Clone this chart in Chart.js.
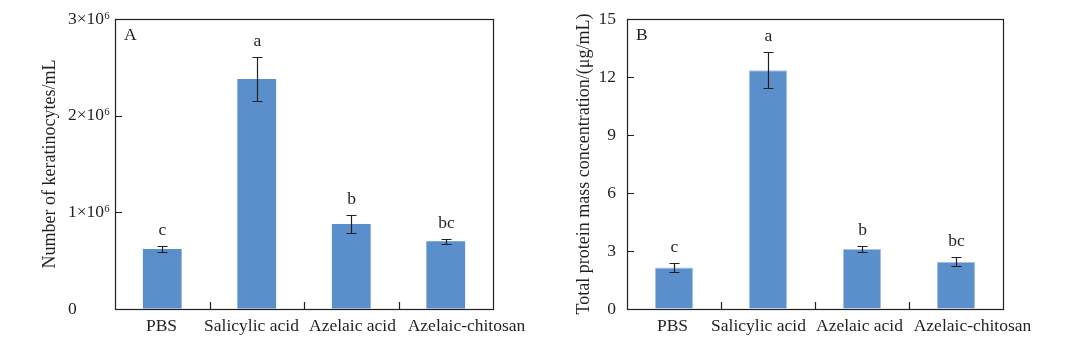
<!DOCTYPE html>
<html>
<head>
<meta charset="utf-8">
<script src="https://cdn.jsdelivr.net/npm/chart.js@4.4.1/dist/chart.umd.min.js"></script>
<style>
    html, body { margin: 0; padding: 0; background: #fff; }
    .painel { position: absolute; top: 0; height: 346px; }
    #painelA { left: 0; width: 540px; }
    #painelB { left: 540px; width: 542px; }
</style>
</head>
<body>
<div class="painel" id="painelA"><canvas id="graficoA"></canvas></div>
<div class="painel" id="painelB"><canvas id="graficoB"></canvas></div>
<script>
// Dados dos dois painéis
const grupos = ['PBS', 'Salicylic acid', 'Azelaic acid', 'Azelaic-chitosan'];
const queratinocitos = [0.62e6, 2.38e6, 0.88e6, 0.70e6];
const queratinocitosErro = [0.03e6, 0.23e6, 0.09e6, 0.025e6];
const proteina = [2.15, 12.35, 3.1, 2.44];
const proteinaErro = [0.23, 0.93, 0.17, 0.23];
const letras = ['c', 'a', 'b', 'bc'];
const rotulosA = ['0', '1×10⁶', '2×10⁶', '3×10⁶'];

const corTexto = '#231f20';
const corBarra = '#5b8fcb';
const fonte = "'Liberation Serif', 'Times New Roman', serif";

Chart.defaults.font.family = fonte;
Chart.defaults.font.size = 17;
Chart.defaults.color = corTexto;

// Moldura, marcas internas, barras de erro, rótulos e letras de significância
const decoracao = {
    id: 'decoracao',
    afterDatasetsDraw(chart, args, opts) {
        const { ctx, chartArea: a, scales: { x, y } } = chart;
        const medias = chart.data.datasets[0].data;
        ctx.save();
        ctx.strokeStyle = corTexto;
        ctx.fillStyle = corTexto;
        ctx.lineWidth = 1.2;

        ctx.strokeRect(Math.round(a.left) + 0.5, Math.round(a.top) + 0.5,
            Math.round(a.right - a.left), Math.round(a.bottom - a.top));

        ctx.beginPath();
        y.ticks.forEach(t => {
            if (t.value <= y.min || t.value >= y.max) return;
            const py = Math.round(y.getPixelForValue(t.value)) + 0.5;
            ctx.moveTo(a.left, py);
            ctx.lineTo(a.left + 7, py);
        });
        for (let i = 1; i < grupos.length; i++) {
            const px = Math.round((x.getPixelForValue(i - 1) + x.getPixelForValue(i)) / 2) + 0.5;
            ctx.moveTo(px, a.bottom);
            ctx.lineTo(px, a.bottom - 7);
        }
        ctx.stroke();

        ctx.font = '17.5px ' + fonte;
        ctx.textAlign = 'center';
        ctx.textBaseline = 'middle';
        medias.forEach((m, i) => {
            const e = opts.erros[i];
            const cx = Math.round(x.getPixelForValue(i)) + 0.5;
            const topo = Math.round(y.getPixelForValue(m + e)) + 0.5;
            const base = Math.round(y.getPixelForValue(m - e)) + 0.5;
            ctx.beginPath();
            ctx.moveTo(cx, topo); ctx.lineTo(cx, base);
            ctx.moveTo(cx - 5, topo); ctx.lineTo(cx + 5, topo);
            ctx.moveTo(cx - 5, base); ctx.lineTo(cx + 5, base);
            ctx.stroke();
            ctx.fillText(letras[i], cx, topo - 16);
            // nome do grupo, levemente afastado para não encostar no vizinho
            ctx.fillText(grupos[i], cx + opts.desvios[i], a.bottom + 17);
        });

        // letra do painel
        ctx.textAlign = 'left';
        ctx.fillText(opts.painel, a.left + 9, a.top + 16);

        // título do eixo y
        ctx.font = '18px ' + fonte;
        ctx.translate(opts.tituloX, (a.top + a.bottom) / 2);
        ctx.rotate(-Math.PI / 2);
        ctx.textAlign = 'center';
        ctx.fillText(opts.titulo, 0, 0);
        ctx.restore();
    }
};

function criarGrafico(id, medias, erros, cfg) {
    return new Chart(document.getElementById(id), {
        type: 'bar',
        data: {
            labels: grupos,
            datasets: [{
                data: medias,
                backgroundColor: corBarra,
                borderColor: cfg.borda,
                borderWidth: cfg.borda ? 1 : 0,
                categoryPercentage: 1,
                barPercentage: 0.41
            }]
        },
        options: {
            responsive: true,
            maintainAspectRatio: false,
            animation: false,
            layout: { padding: cfg.padding },
            plugins: {
                legend: { display: false },
                tooltip: { enabled: false },
                decoracao: {
                    erros: erros,
                    desvios: cfg.desvios,
                    painel: cfg.painel,
                    titulo: cfg.titulo,
                    tituloX: cfg.tituloX
                }
            },
            scales: {
                x: {
                    grid: { display: false, drawTicks: false },
                    border: { display: false },
                    ticks: { display: false },
                    afterFit: (s) => { s.height = 37; }
                },
                y: {
                    min: 0,
                    max: cfg.max,
                    // marca invisível só para afastar os números do eixo
                    grid: {
                        display: true,
                        drawOnChartArea: false,
                        drawTicks: true,
                        tickLength: cfg.afastamento,
                        color: 'rgba(0,0,0,0)'
                    },
                    border: { display: false },
                    ticks: {
                        stepSize: cfg.passo,
                        padding: 0,
                        crossAlign: cfg.alinhamento,
                        font: { size: 17.5 },
                        callback: cfg.rotulo
                    },
                    afterFit: (s) => { s.width = cfg.larguraY; }
                }
            }
        },
        plugins: [decoracao]
    });
}

criarGrafico('graficoA', queratinocitos, queratinocitosErro, {
    painel: 'A',
    titulo: 'Number of keratinocytes/mL',
    tituloX: 50,
    max: 3e6,
    passo: 1e6,
    rotulo: (v) => rotulosA[Math.round(v / 1e6)],
    alinhamento: 'far',
    afastamento: 0,
    larguraY: 47,
    desvios: [-1, -6, 1, 20],
    padding: { left: 68, right: 47, top: 19, bottom: 0 }
});

criarGrafico('graficoB', proteina, proteinaErro, {
    painel: 'B',
    titulo: 'Total protein mass concentration/(μg/mL)',
    tituloX: 44,
    max: 15,
    passo: 3,
    rotulo: (v) => String(v),
    alinhamento: 'near',
    afastamento: 11,
    larguraY: 87,
    borda: '#a9c4e8',
    desvios: [-2, -10, -3, 16],
    padding: { left: 0, right: 79, top: 19, bottom: 0 }
});
</script>
</body>
</html>
